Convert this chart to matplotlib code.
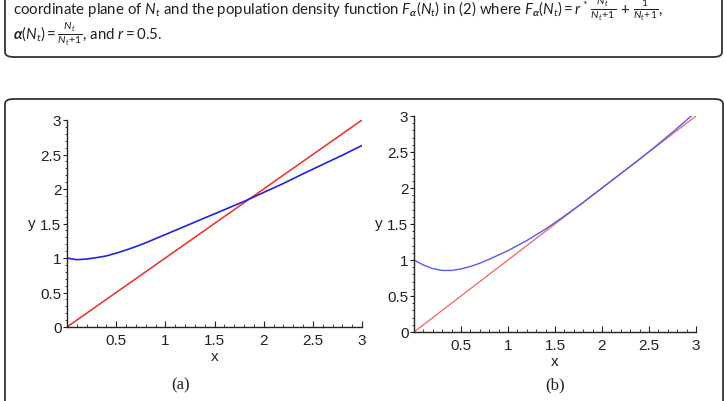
import numpy as np
import matplotlib.pyplot as plt
from matplotlib.patches import FancyBboxPatch
from matplotlib.ticker import MultipleLocator

plt.rcParams['mathtext.fontset'] = 'custom'
plt.rcParams['mathtext.rm'] = 'Lato'
plt.rcParams['mathtext.it'] = 'Lato:italic'
plt.rcParams['mathtext.bf'] = 'Lato:bold:italic'

# values
xa = [0.0, 0.1, 0.2, 0.3, 0.4, 0.5, 0.6, 0.7, 0.8, 0.9, 1.0, 1.2, 1.4, 1.6,
      1.8, 2.0, 2.2, 2.4, 2.6, 2.8, 3.0]
ya = [1.0, 0.975, 0.985, 1.005, 1.03, 1.07, 1.115, 1.165, 1.22, 1.28, 1.34,
      1.46, 1.58, 1.70, 1.82, 1.95, 2.08, 2.22, 2.355, 2.49, 2.63]
xb = [0.0, 0.1, 0.2, 0.3, 0.4, 0.5, 0.6, 0.7, 0.8, 0.9, 1.0, 1.2, 1.4, 1.6,
      1.8, 2.0, 2.2, 2.4, 2.6, 2.8, 2.95]
yb = [1.0, 0.93, 0.88, 0.855, 0.855, 0.875, 0.91, 0.955, 1.01, 1.07, 1.13,
      1.27, 1.43, 1.61, 1.80, 2.0, 2.2, 2.4, 2.61, 2.83, 3.0]
line_x = [0, 3]
line_y = [0, 3]
xticks = [0.5, 1, 1.5, 2, 2.5, 3]
yticks = [0, 0.5, 1, 1.5, 2, 2.5, 3]

W, H = 725, 402
fig = plt.figure(figsize=(W / 100, H / 100), dpi=100)

def fx(px):
    return px / W

def fy(py):
    return 1 - py / H

# caption box (top cut off) and figure box (bottom cut off)
for (x0, y0, x1, y1) in [(5, -40, 722, 58), (5, 100, 723, 440)]:
    box = FancyBboxPatch((fx(x0), fy(y1)), fx(x1 - x0), (y1 - y0) / H,
                         boxstyle="round,pad=0,rounding_size=0.012",
                         transform=fig.transFigure, fill=False,
                         ec='#333333', lw=1.3, clip_on=False)
    fig.add_artist(box)

cap1 = (r"coordinate plane of $N_t$ and the population density function "
        r"$F_{\mathbf{\alpha}}(N_t)$ in (2) where $F_{\mathbf{\alpha}}(N_t) = r^*\,"
        r"\frac{N_t}{N_t\!+\!1}\, +\, \frac{1}{N_t\!+\!1}$,")
cap2 = r"$\mathbf{\alpha}(N_t) = \frac{N_t}{N_t\!+\!1}$, and $r = 0.5$."
fig.text(fx(13), fy(15), cap1, fontsize=10.8, family='Lato', color='#222222', va='baseline')
fig.text(fx(13), fy(40), cap2, fontsize=10.8, family='Lato', color='#222222', va='baseline')

panels = [
    ([67, 121, 362, 328], xa, ya, '#2323dd', '#e83a3a', 1.2, '(a)', 181),
    ([414, 117, 696, 333], xb, yb, '#5a5ae8', '#f07070', 1.0, '(b)', 555),
]

for (l, t, r, b), xs, ys, cblue, cred, lw, tag, tagx in panels:
    ax = fig.add_axes([fx(l), fy(b), fx(r - l), (b - t) / H])
    ax.plot(line_x, line_y, color=cred, lw=lw)
    ax.plot(xs, ys, color=cblue, lw=lw)
    ax.set_xlim(0, 3)
    ax.set_ylim(0, 3)
    ax.set_xticks(xticks)
    ax.set_yticks(yticks)
    ax.set_xticklabels(['0.5', '1', '1.5', '2', '2.5', '3'])
    ax.set_yticklabels(['0', '0.5', '1', '1.5', '2', '2.5', '3'])
    ax.xaxis.set_minor_locator(MultipleLocator(0.1))
    ax.yaxis.set_minor_locator(MultipleLocator(0.1))
    for s in ['top', 'right']:
        ax.spines[s].set_visible(False)
    for s in ['left', 'bottom']:
        ax.spines[s].set_color('#222222')
        ax.spines[s].set_linewidth(1.0)
    ax.tick_params(axis='x', which='major', direction='in', length=4, pad=4,
                   labelsize=11, labelfontfamily='Liberation Sans', colors='#222222')
    ax.tick_params(axis='x', which='minor', direction='in', length=2, colors='#222222')
    ax.tick_params(axis='y', which='major', direction='out', length=3, pad=1,
                   labelsize=11, labelfontfamily='Liberation Sans', colors='#222222')
    ax.tick_params(axis='y', which='minor', direction='out', length=1.5, colors='#222222')
    ax.set_xlabel('x', fontsize=11, family='Liberation Sans', labelpad=2, color='#222222')
    ax.set_ylabel('y', fontsize=11, family='Liberation Sans', rotation=0, color='#222222')
    ax.yaxis.set_label_coords(-35 / (r - l), 0.47)
    fig.text(fx(tagx), fy(385), tag, fontsize=12, family='Liberation Serif',
             ha='center', va='center', color='#222222')

fig.savefig('out.png', dpi=100)
